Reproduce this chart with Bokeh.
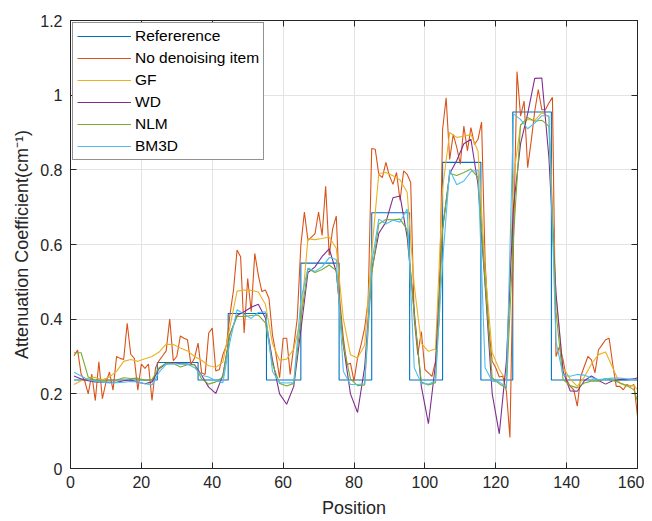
from bokeh.plotting import figure
from bokeh.models import (Range1d, FixedTicker, LinearAxis, CustomJSTickFormatter,
                          Legend, LegendItem)
from bokeh.embed import file_html
from bokeh.resources import INLINE

# ---------------- data ----------------
position = list(range(1, 161))
no_denoising = [
    0.302, 0.317, 0.253, 0.235, 0.200, 0.253, 0.182, 0.286, 0.187, 0.231,
    0.258, 0.210, 0.300, 0.295, 0.292, 0.389, 0.306, 0.295, 0.210, 0.280,
    0.268, 0.280, 0.182, 0.270, 0.289, 0.302, 0.315, 0.400, 0.289, 0.300,
    0.355, 0.349, 0.345, 0.278, 0.296, 0.336, 0.256, 0.252, 0.363, 0.376,
    0.261, 0.265, 0.305, 0.330, 0.412, 0.478, 0.585, 0.567, 0.363, 0.509,
    0.420, 0.576, 0.518, 0.474, 0.478, 0.456, 0.358, 0.305, 0.243, 0.349,
    0.349, 0.252, 0.327, 0.403, 0.598, 0.687, 0.611, 0.620, 0.629, 0.687,
    0.624, 0.756, 0.571, 0.643, 0.676, 0.450, 0.349, 0.278, 0.282, 0.234,
    0.296, 0.332, 0.376, 0.450, 0.857, 0.855, 0.788, 0.779, 0.820, 0.784,
    0.761, 0.793, 0.718, 0.797, 0.788, 0.766, 0.400, 0.305, 0.367, 0.265,
    0.256, 0.247, 0.287, 0.394, 0.908, 0.993, 0.828, 0.895, 0.860, 0.815,
    0.917, 0.851, 0.913, 0.868, 0.882, 0.928, 0.554, 0.380, 0.287, 0.270,
    0.245, 0.247, 0.207, 0.083, 0.600, 1.063, 0.944, 0.984, 0.806, 0.877,
    0.957, 1.015, 0.961, 0.961, 0.979, 0.994, 0.300, 0.327, 0.291, 0.238,
    0.220, 0.211, 0.167, 0.247, 0.274, 0.300, 0.291, 0.256, 0.318, 0.331,
    0.345, 0.349, 0.280, 0.220, 0.220, 0.211, 0.225, 0.220, 0.225, 0.140,
]

position_s = list(range(1, 160, 2)) + [160]
gf = [
    0.225, 0.235, 0.242, 0.244, 0.238, 0.245, 0.260, 0.287, 0.292, 0.287,
    0.294, 0.300, 0.312, 0.333, 0.332, 0.323, 0.315, 0.300, 0.290, 0.275,
    0.271, 0.285, 0.380, 0.475, 0.478, 0.477, 0.473, 0.440, 0.335, 0.290,
    0.293, 0.320, 0.400, 0.615, 0.613, 0.616, 0.620, 0.590, 0.400, 0.305,
    0.296, 0.330, 0.580, 0.790, 0.793, 0.784, 0.773, 0.740, 0.490, 0.335,
    0.314, 0.320, 0.750, 0.900, 0.887, 0.890, 0.895, 0.850, 0.530, 0.310,
    0.265, 0.235, 0.780, 0.920, 0.935, 0.932, 0.953, 0.942, 0.460, 0.270,
    0.240, 0.220, 0.245, 0.280, 0.305, 0.312, 0.270, 0.228, 0.221, 0.222,
    0.211,
]
wd = [
    0.248, 0.240, 0.235, 0.232, 0.231, 0.231, 0.231, 0.235, 0.237, 0.231,
    0.227, 0.232, 0.267, 0.282, 0.284, 0.281, 0.280, 0.278, 0.250, 0.218,
    0.201, 0.250, 0.360, 0.410, 0.420, 0.432, 0.440, 0.403, 0.290, 0.200,
    0.172, 0.220, 0.370, 0.525, 0.540, 0.568, 0.588, 0.527, 0.330, 0.200,
    0.150, 0.270, 0.530, 0.630, 0.660, 0.725, 0.730, 0.620, 0.420, 0.220,
    0.120, 0.280, 0.642, 0.790, 0.825, 0.870, 0.882, 0.760, 0.490, 0.200,
    0.093, 0.287, 0.700, 0.870, 0.950, 1.045, 1.046, 0.833, 0.470, 0.260,
    0.208, 0.207, 0.235, 0.248, 0.236, 0.226, 0.235, 0.238, 0.238, 0.240,
    0.243,
]
nlm = [
    0.310, 0.310, 0.245, 0.236, 0.234, 0.235, 0.237, 0.243, 0.241, 0.242,
    0.236, 0.238, 0.270, 0.282, 0.281, 0.272, 0.278, 0.278, 0.240, 0.226,
    0.232, 0.245, 0.360, 0.407, 0.407, 0.410, 0.411, 0.390, 0.280, 0.228,
    0.221, 0.228, 0.400, 0.535, 0.525, 0.533, 0.545, 0.530, 0.330, 0.240,
    0.222, 0.224, 0.520, 0.655, 0.667, 0.666, 0.668, 0.640, 0.410, 0.232,
    0.224, 0.230, 0.642, 0.790, 0.785, 0.793, 0.802, 0.780, 0.500, 0.243,
    0.227, 0.215, 0.620, 0.920, 0.940, 0.930, 0.933, 0.917, 0.420, 0.238,
    0.222, 0.216, 0.229, 0.234, 0.234, 0.241, 0.236, 0.230, 0.222, 0.211,
    0.180,
]
bm3d = [
    0.258, 0.248, 0.238, 0.234, 0.231, 0.229, 0.230, 0.231, 0.233, 0.232,
    0.227, 0.224, 0.258, 0.279, 0.280, 0.280, 0.280, 0.270, 0.250, 0.245,
    0.235, 0.230, 0.340, 0.425, 0.413, 0.402, 0.418, 0.420, 0.260, 0.230,
    0.229, 0.230, 0.450, 0.537, 0.528, 0.540, 0.565, 0.560, 0.260, 0.225,
    0.225, 0.227, 0.550, 0.668, 0.655, 0.665, 0.660, 0.695, 0.270, 0.228,
    0.226, 0.235, 0.554, 0.800, 0.760, 0.770, 0.795, 0.800, 0.270, 0.234,
    0.232, 0.218, 0.950, 0.935, 0.910, 0.925, 0.945, 0.945, 0.340, 0.250,
    0.247, 0.252, 0.250, 0.243, 0.238, 0.240, 0.242, 0.242, 0.240, 0.238,
    0.237,
]
reference_pos = [1, 24.5, 24.5, 36, 36, 44.5, 44.5, 55.3, 55.3, 65, 65, 75.8, 75.8,
                 85, 85, 95.7, 95.7, 105, 105, 115.8, 115.8, 124.8, 124.8, 135.7, 135.7, 160]
reference_val = [0.237, 0.237, 0.284, 0.284, 0.237, 0.237, 0.415, 0.415, 0.237, 0.237,
                 0.55, 0.55, 0.237, 0.237, 0.685, 0.685, 0.237, 0.237, 0.82, 0.82,
                 0.237, 0.237, 0.955, 0.955, 0.237, 0.237]

x_ticks = [0, 20, 40, 60, 80, 100, 120, 140, 160]
y_ticks = [0, 0.2, 0.4, 0.6, 0.8, 1.0, 1.2]
y_tick_labels = ["0", "0.2", "0.4", "0.6", "0.8", "1", "1.2"]

series_names = ["Refererence", "No denoising item", "GF", "WD", "NLM", "BM3D"]
series_colors = ["#0072BD", "#D95319", "#EDB120", "#7E2F8E", "#77AC30", "#4DBEEE"]

# ---------------- figure ----------------
FONT = "Liberation Sans"
AX = "#262626"

p = figure(width=644, height=521, x_range=Range1d(0, 160), y_range=Range1d(0, 1.2),
           output_backend="svg", toolbar_location=None,
           min_border_left=70, min_border_right=7, min_border_top=20, min_border_bottom=53)
p.background_fill_color = "white"
p.border_fill_color = "white"
p.outline_line_color = AX

xt = FixedTicker(ticks=x_ticks)
yt = FixedTicker(ticks=y_ticks)

for ax, tk in ((p.xaxis[0], xt), (p.yaxis[0], yt)):
    ax.ticker = tk
    ax.major_tick_in = 6
    ax.major_tick_out = 0
    ax.minor_tick_in = 0
    ax.minor_tick_out = 0
    ax.axis_line_color = AX
    ax.major_tick_line_color = AX
    ax.major_label_text_font = FONT
    ax.major_label_text_font_size = "16px"
    ax.major_label_text_color = AX
    ax.axis_label_text_font = FONT
    ax.axis_label_text_font_size = "18px"
    ax.axis_label_text_font_style = "normal"
    ax.axis_label_text_color = AX

p.xaxis.major_label_standoff = 7
p.xaxis.axis_label = "Position"
p.xaxis.axis_label_standoff = 7
p.yaxis.major_label_standoff = 8
p.yaxis.axis_label = "Attenuation Coefficient(cm\u207b\u00b9)"
p.yaxis.axis_label_standoff = 5
p.yaxis.major_label_overrides = dict(zip(y_ticks, y_tick_labels))

for side, tk in (("above", xt), ("right", yt)):
    a = LinearAxis(ticker=tk, formatter=CustomJSTickFormatter(code="return ''"),
                   major_tick_in=6, major_tick_out=0, minor_tick_in=0, minor_tick_out=0,
                   major_label_standoff=0, axis_line_color=AX, major_tick_line_color=AX,
                   major_label_text_font_size="1px")
    p.add_layout(a, side)

p.xgrid.ticker = xt
p.ygrid.ticker = yt
p.xgrid.grid_line_color = "#e3e3e3"
p.ygrid.grid_line_color = "#e3e3e3"

lw = 1.1
xs_list = [reference_pos, position, position_s, position_s, position_s, position_s]
ys_list = [reference_val, no_denoising, gf, wd, nlm, bm3d]
renderers = []
for xs, ys, c in zip(xs_list, ys_list, series_colors):
    renderers.append(p.line(xs, ys, line_color=c, line_width=lw))

legend = Legend(items=[LegendItem(label=n, renderers=[r]) for n, r in zip(series_names, renderers)],
                location="top_left", margin=2, padding=4, spacing=4,
                glyph_width=54, glyph_height=18, label_height=18, label_standoff=4,
                label_text_font=FONT, label_text_font_size="15.5px", label_text_color="#000000",
                border_line_color=AX, border_line_width=1,
                background_fill_color="white", background_fill_alpha=1.0)
p.add_layout(legend, "center")

open("out.html", "w").write(file_html(p, INLINE))
